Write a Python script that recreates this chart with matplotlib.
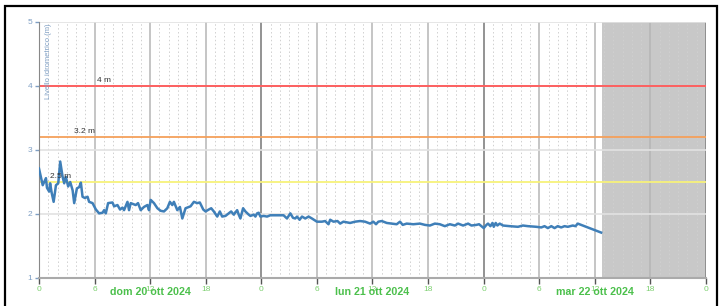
import matplotlib.pyplot as plt
from matplotlib.patches import Rectangle

plt.rcParams['font.family'] = ['Liberation Sans', 'DejaVu Sans']

# ore dall'inizio (dom 20 ott 2024 00:00) e livello idrometrico (m)
ore = [0.0, 0.4, 0.75, 0.86, 1.1, 1.2, 1.37, 1.58, 1.83, 2.08, 2.29, 2.55, 2.72, 2.9,
       3.15, 3.37, 3.63, 3.8, 4.09, 4.34, 4.52, 4.7, 4.95, 5.24, 5.41, 5.78, 6.14, 6.49,
       6.86, 7.03, 7.21, 7.46, 7.93, 8.11, 8.47, 8.75, 9.01, 9.18, 9.55, 9.72, 9.9,
       10.44, 10.69, 10.98, 11.33, 11.7, 11.87, 12.06, 12.41, 12.78, 13.13, 13.49, 13.85,
       14.13, 14.39, 14.56, 14.93, 15.21, 15.47, 15.82, 16.18, 16.36, 16.72, 17.08, 17.36,
       17.73, 17.98, 18.33, 18.59, 18.87, 19.24, 19.52, 19.77, 20.13, 20.48, 20.74, 21.02,
       21.39, 21.56, 21.74, 22.03, 22.28, 22.64, 22.82, 23.18, 23.36, 23.54, 23.71, 23.9,
       24.25, 24.62, 24.97, 25.6, 26.4, 26.77, 27.13, 27.42, 27.66, 27.85, 28.13, 28.39,
       28.74, 29.1, 29.46, 30.0, 30.54, 30.89, 31.25, 31.43, 31.79, 32.22, 32.51, 32.86,
       33.58, 34.12, 34.66, 35.2, 35.74, 36.09, 36.38, 36.63, 37.0, 37.54, 38.07, 38.61,
       38.97, 39.26, 39.69, 40.4, 41.12, 41.66, 42.2, 42.73, 43.27, 43.81, 44.35, 44.89,
       45.24, 45.78, 46.32, 46.68, 47.22, 47.5, 47.76, 48.01, 48.3, 48.47, 48.73, 48.95,
       49.09, 49.3, 49.48, 49.73, 50.09, 50.81, 51.7, 52.24, 52.78, 53.68, 54.22, 54.57,
       54.93, 55.3, 55.65, 56.0, 56.37, 56.73, 57.08, 57.62, 57.91, 58.16, 58.52, 59.06,
       59.6, 60.14, 60.68]
livello = [2.71, 2.45, 2.56, 2.41, 2.35, 2.48, 2.33, 2.19, 2.45, 2.48, 2.82, 2.58, 2.48, 2.58,
           2.43, 2.50, 2.37, 2.17, 2.40, 2.42, 2.49, 2.27, 2.25, 2.27, 2.19, 2.17, 2.07, 2.01,
           2.02, 2.06, 2.01, 2.17, 2.18, 2.12, 2.14, 2.07, 2.10, 2.06, 2.19, 2.06, 2.17,
           2.14, 2.17, 2.06, 2.11, 2.14, 2.06, 2.22, 2.17, 2.09, 2.05, 2.04, 2.09,
           2.19, 2.14, 2.19, 2.06, 2.11, 1.93, 2.09, 2.11, 2.12, 2.19, 2.17, 2.18,
           2.07, 2.04, 2.07, 2.09, 2.04, 1.96, 2.04, 1.96, 1.97, 2.01, 2.04, 1.99,
           2.06, 1.99, 1.93, 2.09, 2.04, 1.99, 1.97, 1.99, 1.96, 2.01, 2.02, 1.96,
           1.97, 1.96, 1.98, 1.98, 1.98, 1.93, 2.01, 1.94, 1.93, 1.96, 1.91, 1.96,
           1.93, 1.96, 1.93, 1.88, 1.88, 1.89, 1.84, 1.91, 1.88, 1.89, 1.85, 1.88,
           1.86, 1.88, 1.89, 1.88, 1.85, 1.88, 1.84, 1.88, 1.89, 1.86, 1.85, 1.84,
           1.88, 1.83, 1.85, 1.84, 1.85, 1.83, 1.82, 1.85, 1.84, 1.81, 1.84, 1.82,
           1.85, 1.82, 1.85, 1.82, 1.83, 1.84, 1.81, 1.78, 1.83, 1.85, 1.81, 1.86,
           1.80, 1.86, 1.82, 1.85, 1.82, 1.81, 1.80, 1.82, 1.81, 1.80, 1.79, 1.81,
           1.78, 1.81, 1.78, 1.81, 1.79, 1.81, 1.80, 1.82, 1.81, 1.85, 1.83, 1.80,
           1.77, 1.74, 1.71]

# soglie
soglie = [4.0, 3.2, 2.5]
soglie_label = ['4 m', '3.2 m', '2.5 m']
soglie_colori = ['#ff5555', '#f5a05a', '#f7f27a']
soglie_xlabel = [6.3, 3.8, 1.2]

# asse x
tick_ore = list(range(0, 73, 6))
tick_label = ['0', '6', '12', '18'] * 3 + ['0']
giorni = ['dom 20 ott 2024', 'lun 21 ott 2024', 'mar 22 ott 2024']
giorni_centro = [12, 36, 60]
inizio_futuro = 60.8

fig = plt.figure(figsize=(7.21, 3.06), dpi=100)
ax = fig.add_axes([39 / 721, 1 - 278 / 306, (706 - 39) / 721, (278 - 22) / 306])

# cornice
fig.patches.append(Rectangle((5 / 721, -0.1), 712 / 721, 1.1 - 6 / 306,
                             transform=fig.transFigure, fill=False,
                             edgecolor='black', linewidth=1.6))

ax.set_xlim(0, 72)
ax.set_ylim(1, 5)

# zona grigia (futuro)
ax.axvspan(inizio_futuro, 72, color='#c8c8c8', zorder=0.5, lw=0)

# griglia
for h in range(0, 73):
    if h % 24 == 0:
        ax.axvline(h, color='#8a8a8a', lw=1.3, zorder=1)
    elif h % 6 == 0:
        ax.axvline(h, color='#b5b5b5', lw=1.1, zorder=1)
    else:
        ax.axvline(h, color='#d0d0d0', lw=0.7, ls=(0, (1.5, 2.5)), zorder=1)
for y in range(1, 6):
    ax.axhline(y, color='#e2e2e2', lw=1.2, zorder=1)

# soglie
for s, lab, c, xl in zip(soglie, soglie_label, soglie_colori, soglie_xlabel):
    ax.axhline(s, color=c, lw=1.3, zorder=2)
    ax.text(xl, s + 0.03, lab, fontsize=6, color='#333333', va='bottom', ha='left', zorder=4)

ax.plot(ore, livello, color='#3f7fb8', lw=1.8, zorder=3)

ax.text(0.6, 4.97, 'Livello idrometrico (m)', rotation=90, fontsize=5.5,
        color='#7f9fc4', va='top', ha='left', zorder=4)

ax.set_xticks(tick_ore)
ax.set_xticklabels(tick_label)
ax.set_yticks([1, 2, 3, 4, 5])
ax.tick_params(axis='x', colors='#555555', labelcolor='#7ccf6f', labelsize=6,
               length=4, width=1, pad=2)
ax.tick_params(axis='y', colors='#7f9fc4', labelcolor='#7f9fc4', labelsize=6,
               length=3, width=1, pad=2)

for sp in ['top', 'right']:
    ax.spines[sp].set_visible(False)
ax.spines['left'].set_color('#888888')
ax.spines['bottom'].set_color('#aaaaaa')
ax.spines['bottom'].set_linewidth(1.5)

# date sotto l'asse
for g, c in zip(giorni, giorni_centro):
    ax.text(c, -14 / 256, g, transform=ax.get_xaxis_transform(), fontsize=7.7,
            fontweight='bold', color='#4cc04c', ha='center', va='center', zorder=5)

fig.savefig('out.png', dpi=100)
